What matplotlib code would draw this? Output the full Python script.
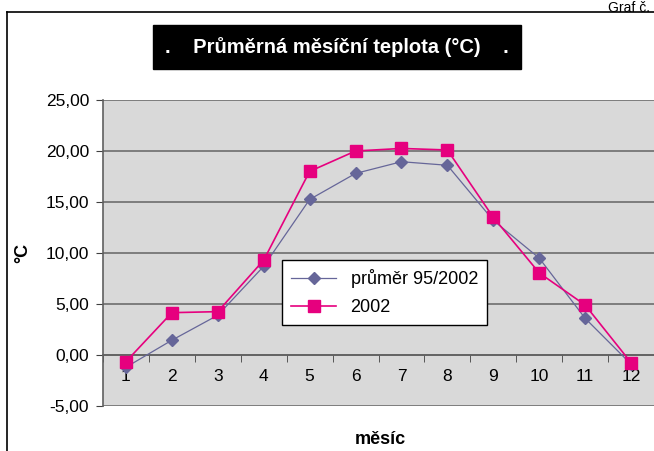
import numpy as np
import matplotlib.pyplot as plt
from matplotlib.lines import Line2D

plt.rcParams['font.family'] = ['Liberation Sans', 'DejaVu Sans']

months = np.arange(1, 13)
month_labels = [str(m) for m in months]
avg_95_2002 = [-1.2, 1.45, 3.9, 8.7, 15.25, 17.8, 18.95, 18.6, 13.2, 9.5, 3.6, -0.9]
t_2002 = [-0.65, 4.15, 4.25, 9.3, 18.0, 20.0, 20.25, 20.1, 13.5, 8.05, 4.9, -0.75]

W, H = 654, 451
fig = plt.figure(figsize=(W / 100, H / 100), dpi=100)

# outer frame (only left and top visible in the crop)
fig.add_artist(Line2D([7 / W, 7 / W], [0, 1 - 12 / H], color='black', lw=1.2))
fig.add_artist(Line2D([7 / W, 1], [1 - 12 / H, 1 - 12 / H], color='black', lw=1.2))
fig.text(650 / W, 1 - 1 / H, "Graf č.", ha='right', va='top', fontsize=10)

ax = fig.add_axes([103 / W, 1 - 406 / H, (654 - 103) / W, (406 - 100) / H])
ax.set_facecolor('#d9d9d9')

ax.plot(months, avg_95_2002, color='#666699', lw=0.9, marker='D', ms=6.3,
        label='průměr 95/2002', zorder=3)
ax.plot(months, t_2002, color='#e6007e', lw=1.2, marker='s', ms=8.3,
        label='2002', zorder=4)

ax.set_xlim(0.5, 12.5)
ax.set_ylim(-5, 25)
ax.set_yticks(np.arange(-5, 26, 5))
ax.set_yticklabels([f"{v:.2f}".replace('.', ',') for v in np.arange(-5, 26, 5)])
for v in np.arange(-5, 26, 5):
    ax.axhline(v, color='#6e6e6e', lw=1.2, zorder=1)

ax.set_xticks(months)
ax.set_xticklabels(month_labels)
ax.set_xticks(np.arange(0.5, 13, 1), minor=True)
ax.tick_params(axis='x', which='major', length=0, pad=10, labelsize=12.5)
ax.tick_params(axis='x', which='minor', length=5, direction='out', color='#404040')
ax.tick_params(axis='y', length=5, color='#404040', labelsize=12.5, pad=5)

for s in ['top', 'right']:
    ax.spines[s].set_visible(False)
ax.spines['bottom'].set_position(('data', 0))
ax.spines['bottom'].set_color('#606060')
ax.spines['bottom'].set_linewidth(1.2)
ax.spines['left'].set_color('#606060')
ax.spines['left'].set_linewidth(1.2)

fig.text(23 / W, 1 - 253 / H, "°C", rotation=90, ha='center', va='center',
         fontsize=13, fontweight='bold')
fig.text(380 / W, 1 - 439 / H, "měsíc", ha='center', va='center',
         fontsize=13, fontweight='bold')

fig.text(337 / W, 1 - 47 / H, ".    Průměrná měsíční teplota (°C)    .",
         ha='center', va='center', color='white', fontsize=14.5, fontweight='bold',
         bbox=dict(boxstyle='square,pad=0.6', fc='black', ec='black'))

leg = ax.legend(loc='upper left', bbox_to_anchor=(282 / W, 1 - 260 / H),
                bbox_transform=fig.transFigure, fontsize=13, frameon=True,
                fancybox=False, edgecolor='black', framealpha=1,
                borderpad=0.5, handlelength=2.5, labelspacing=0.6, borderaxespad=0)
leg.get_frame().set_linewidth(1.0)

fig.savefig('out.png', dpi=100)
